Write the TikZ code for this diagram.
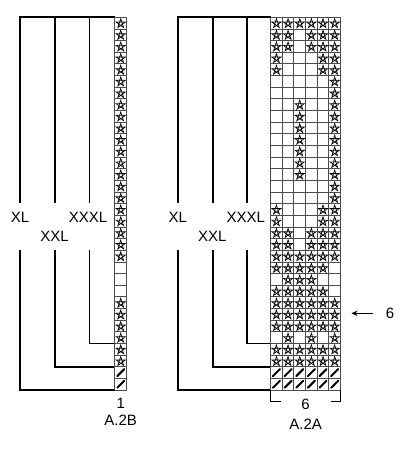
\documentclass[tikz,border=0pt]{standalone}
\usepackage{fontspec}
\setmainfont{Liberation Sans}
\usetikzlibrary{arrows.meta}

% stella nella casella (colonna, riga)
\newcommand{\stella}[2]{%
  \draw[segno,shift={(#1-0.5,#2-0.46)}] (270:0.42) -- (54:0.42) -- (198:0.42) -- (342:0.42) -- (126:0.42) -- cycle;}
% barra nella casella (colonna, riga)
\newcommand{\barra}[2]{%
  \draw[barretta] (#1-0.8,#2-0.2) -- (#1-0.2,#2-0.8);}

\begin{document}
\begin{tikzpicture}[x=1pt,y=-1pt,
    taglia/.style={line width=1.8pt},
    griglia/.style={line width=0.9pt,black!70},
    segno/.style={line width=0.7pt,line join=miter},
    barretta/.style={line width=2pt,line cap=round},
    etichetta/.style={inner sep=0pt,font=\fontsize{15}{18}\selectfont}]
    \useasboundingbox (0,0) rectangle (407,450);
    % Taglie
    \foreach \ox/\cx/\n in {0/114.9/b, 157.8/270.6/a} {
        \draw[taglia] (20+\ox,202.5) -- (20+\ox,17.3) -- (\cx,17.3);
        \draw[taglia] (55+\ox,17.3) -- (55+\ox,202.5);
        \draw[taglia] (89.5+\ox,17.3) -- (89.5+\ox,202.5);
        \draw[taglia] (20+\ox,250) -- (20+\ox,390.1) -- (\cx,390.1);
        \draw[taglia] (55+\ox,250) -- (55+\ox,366.8) -- (\cx,366.8);
        \draw[taglia] (89.5+\ox,250) -- (89.5+\ox,343.5) -- (\cx,343.5);
        \node[etichetta] (xl\n) at (20+\ox,217.5) {XL};
        \node[etichetta] (xxl\n) at (54.5+\ox,236.7) {XXL};
        \node[etichetta] (xxxl\n) at (88+\ox,217.5) {XXXL};
    }
    % A.2B
    \begin{scope}[shift={(114.9,17.3)},x=11.65pt,y=-11.65pt]
        \foreach \j in {0,...,32} \draw[griglia] (0,\j) -- (1,\j);
        \draw[griglia] (0,0) -- (0,32) (1,0) -- (1,32);
        \foreach \r in {1,...,21} \stella{1}{\r};
        \foreach \r in {25,...,30} \stella{1}{\r};
        \foreach \r in {31,32} \barra{1}{\r};
    \end{scope}
    \node[etichetta] (numb) at (120.7,403) {1};
    \node[etichetta] (nomeb) at (120.7,420.5) {A.2B};
    % A.2A
    \begin{scope}[shift={(270.6,17.3)},x=11.65pt,y=-11.65pt]
        \foreach \j in {0,...,32} \draw[griglia] (0,\j) -- (6,\j);
        \foreach \i in {0,...,6} \draw[griglia] (\i,0) -- (\i,32);
        \foreach \r/\cols in {1/{1,...,6}, 2/{1,2,4,5,6}, 3/{1,2,4,5,6}, 4/{1,5,6}, 5/{1,5,6},
                6/{6}, 7/{6}, 8/{3,6}, 9/{3,6}, 10/{3,6}, 11/{3,6}, 12/{3,6}, 13/{3,6}, 14/{3,6},
                15/{6}, 16/{6}, 17/{1,5,6}, 18/{1,5,6}, 19/{1,2,4,5,6}, 20/{1,2,4,5,6},
                21/{1,...,6}, 22/{1,...,5}, 23/{2,3,4}, 24/{1,...,5}, 25/{1,...,6},
                26/{1,...,6}, 27/{1,...,6}, 28/{2,4,6}, 29/{1,...,6}, 30/{1,...,6}}
            \foreach \c in \cols \stella{\c}{\r};
        \foreach \r in {31,32} \foreach \c in {1,...,6} \barra{\c}{\r};
    \end{scope}
    \draw[taglia,line width=1.5pt] (280.6,401.7) -- (270.6,401.7) -- (270.6,390.1);
    \draw[taglia,line width=1.5pt] (330.5,401.7) -- (340.5,401.7) -- (340.5,390.1);
    \node[etichetta] (numa) at (305.6,404.5) {6};
    \node[etichetta] (nomea) at (305.6,424.7) {A.2A};
    % Freccia
    \node[etichetta] (riga) at (390,313.3) {6};
    \coordinate (punta) at (351.5,313.3);
    \draw[-{Stealth[length=6pt,width=5.5pt]},line width=1.1pt] ([xshift=-12.5pt]riga.west) -- (punta);
\end{tikzpicture}
\end{document}
